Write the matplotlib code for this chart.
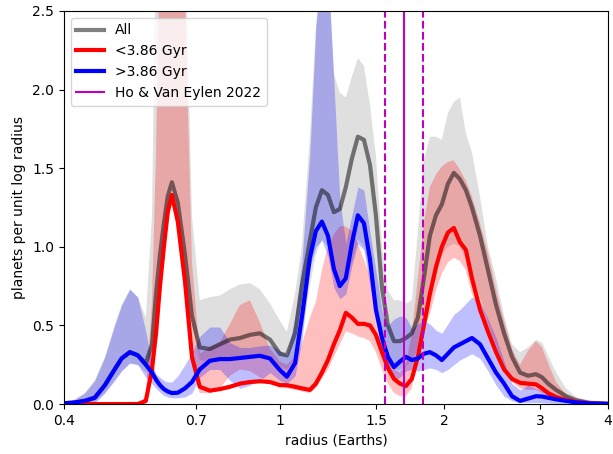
import numpy as np
import matplotlib
matplotlib.use("Agg")
import matplotlib.pyplot as plt
from matplotlib.ticker import FixedLocator, FixedFormatter, NullLocator

# radius grid (Earth radii)
radius = [0.400, 0.419, 0.437, 0.456, 0.476, 0.496, 0.511, 0.529, 0.547, 0.566,
          0.581, 0.591, 0.601, 0.611, 0.621, 0.632, 0.648, 0.668, 0.688, 0.711,
          0.742, 0.774, 0.808, 0.843, 0.879, 0.917, 0.957, 0.998, 1.028, 1.064,
          1.095, 1.133, 1.162, 1.192, 1.223, 1.254, 1.286, 1.319, 1.353, 1.388,
          1.424, 1.461, 1.498, 1.537, 1.576, 1.617, 1.658, 1.701, 1.744, 1.789,
          1.835, 1.882, 1.931, 1.980, 2.031, 2.083, 2.137, 2.192, 2.249, 2.327,
          2.407, 2.490, 2.576, 2.664, 2.756, 2.851, 2.949, 3.025, 3.103, 3.210,
          3.349, 3.493, 3.706, 4.000]

all_line = [0.005, 0.01, 0.02, 0.04, 0.12, 0.22, 0.29, 0.33, 0.31, 0.26,
            0.38, 0.70, 0.95, 1.15, 1.32, 1.41, 1.28, 0.95, 0.56, 0.36,
            0.35, 0.38, 0.41, 0.42, 0.44, 0.45, 0.41, 0.32, 0.31, 0.45,
            0.75, 1.04, 1.25, 1.36, 1.33, 1.22, 1.24, 1.38, 1.56, 1.70,
            1.68, 1.52, 1.20, 0.74, 0.50, 0.40, 0.40, 0.42, 0.45, 0.55,
            0.80, 1.07, 1.20, 1.27, 1.40, 1.47, 1.43, 1.36, 1.25, 1.07,
            0.85, 0.63, 0.45, 0.30, 0.20, 0.18, 0.19, 0.17, 0.13, 0.09,
            0.05, 0.025, 0.008, 0.002]
all_lo = [0.0, 0.0, 0.002, 0.008, 0.07, 0.15, 0.21, 0.26, 0.25, 0.20,
          0.24, 0.60, 0.90, 1.10, 1.28, 1.38, 1.25, 0.90, 0.50, 0.28,
          0.27, 0.28, 0.28, 0.29, 0.30, 0.30, 0.28, 0.24, 0.22, 0.28,
          0.45, 0.75, 0.95, 1.05, 1.00, 0.85, 0.78, 0.79, 0.90, 1.05,
          1.00, 0.82, 0.55, 0.35, 0.25, 0.22, 0.22, 0.24, 0.28, 0.35,
          0.55, 0.75, 0.88, 0.95, 1.00, 1.02, 1.00, 0.92, 0.82, 0.68,
          0.52, 0.38, 0.25, 0.16, 0.12, 0.11, 0.11, 0.09, 0.06, 0.04,
          0.02, 0.008, 0.002, 0.0]
all_hi = [0.005, 0.03, 0.07, 0.15, 0.30, 0.50, 0.63, 0.73, 0.68, 0.55,
          1.20, 3.0, 3.0, 3.0, 3.0, 3.0, 3.0, 3.0, 1.20, 0.66,
          0.68, 0.69, 0.73, 0.76, 0.77, 0.73, 0.64, 0.53, 0.46, 0.70,
          1.00, 1.70, 2.40, 2.80, 2.80, 2.10, 1.98, 1.95, 2.08, 2.20,
          2.15, 1.90, 1.58, 1.00, 0.72, 0.66, 0.66, 0.64, 0.66, 1.10,
          1.55, 1.70, 1.70, 1.68, 1.85, 1.92, 1.95, 1.72, 1.60, 1.32,
          1.00, 0.80, 0.56, 0.38, 0.33, 0.36, 0.41, 0.39, 0.31, 0.20,
          0.10, 0.045, 0.012, 0.003]

young_line = [0.0, 0.0, 0.0, 0.0, 0.0, 0.0, 0.0, 0.0, 0.0, 0.02,
              0.22, 0.45, 0.75, 1.00, 1.22, 1.33, 1.16, 0.78, 0.30, 0.11,
              0.085, 0.095, 0.11, 0.13, 0.14, 0.145, 0.14, 0.12, 0.12, 0.11,
              0.10, 0.09, 0.13, 0.20, 0.28, 0.38, 0.47, 0.58, 0.55, 0.51,
              0.51, 0.50, 0.44, 0.33, 0.23, 0.16, 0.13, 0.115, 0.16, 0.30,
              0.50, 0.70, 0.87, 1.00, 1.09, 1.12, 1.03, 0.98, 0.80, 0.60,
              0.46, 0.33, 0.22, 0.16, 0.135, 0.13, 0.125, 0.10, 0.07, 0.045,
              0.025, 0.015, 0.005, 0.001]
young_lo = [0.0, 0.0, 0.0, 0.0, 0.0, 0.0, 0.0, 0.0, 0.0, 0.0,
            0.15, 0.40, 0.70, 0.95, 1.18, 1.30, 1.12, 0.72, 0.25, 0.07,
            0.07, 0.10, 0.18, 0.22, 0.21, 0.17, 0.135, 0.11, 0.10, 0.09,
            0.08, 0.07, 0.10, 0.16, 0.22, 0.30, 0.38, 0.46, 0.45, 0.43,
            0.42, 0.40, 0.33, 0.22, 0.13, 0.07, 0.05, 0.05, 0.10, 0.30,
            0.48, 0.57, 0.72, 0.83, 0.90, 0.93, 0.91, 0.85, 0.70, 0.58,
            0.47, 0.33, 0.21, 0.14, 0.10, 0.09, 0.09, 0.07, 0.05, 0.03,
            0.015, 0.007, 0.002, 0.0]
young_hi = [0.0, 0.0, 0.0, 0.0, 0.0, 0.0, 0.0, 0.0, 0.0, 0.05,
            0.65, 1.60, 3.0, 3.0, 3.0, 3.0, 3.0, 2.60, 0.90, 0.32,
            0.36, 0.39, 0.51, 0.63, 0.66, 0.52, 0.35, 0.27, 0.25, 0.30,
            0.38, 0.55, 0.65, 0.85, 1.00, 1.08, 1.13, 1.13, 1.10, 1.02,
            0.92, 0.81, 0.60, 0.45, 0.30, 0.22, 0.20, 0.25, 0.45, 0.80,
            1.15, 1.38, 1.46, 1.51, 1.54, 1.55, 1.49, 1.42, 1.32, 1.15,
            0.96, 0.73, 0.53, 0.35, 0.25, 0.34, 0.40, 0.36, 0.26, 0.14,
            0.06, 0.025, 0.008, 0.002]

old_line = [0.005, 0.01, 0.02, 0.04, 0.12, 0.22, 0.29, 0.33, 0.31, 0.25,
            0.20, 0.155, 0.12, 0.095, 0.08, 0.07, 0.072, 0.10, 0.14, 0.22,
            0.275, 0.286, 0.286, 0.293, 0.30, 0.307, 0.29, 0.216, 0.174, 0.26,
            0.55, 0.93, 1.10, 1.16, 1.07, 0.86, 0.75, 0.80, 1.02, 1.20,
            1.15, 0.92, 0.60, 0.42, 0.30, 0.235, 0.27, 0.30, 0.28, 0.29,
            0.32, 0.33, 0.31, 0.28, 0.32, 0.36, 0.38, 0.40, 0.42, 0.38,
            0.29, 0.20, 0.13, 0.05, 0.02, 0.035, 0.05, 0.048, 0.04, 0.03,
            0.02, 0.01, 0.004, 0.001]
old_lo = [0.0, 0.0, 0.002, 0.008, 0.07, 0.15, 0.21, 0.26, 0.25, 0.17,
          0.13, 0.10, 0.075, 0.055, 0.045, 0.04, 0.04, 0.045, 0.07, 0.17,
          0.22, 0.22, 0.15, 0.10, 0.12, 0.15, 0.20, 0.15, 0.13, 0.18,
          0.40, 0.87, 1.00, 1.04, 0.94, 0.74, 0.67, 0.70, 0.88, 1.02,
          0.98, 0.75, 0.56, 0.35, 0.20, 0.15, 0.17, 0.21, 0.22, 0.21,
          0.22, 0.23, 0.22, 0.20, 0.22, 0.25, 0.28, 0.30, 0.32, 0.29,
          0.21, 0.12, 0.05, 0.02, 0.01, 0.01, 0.01, 0.008, 0.006, 0.004,
          0.002, 0.001, 0.0, 0.0]
old_hi = [0.005, 0.03, 0.07, 0.15, 0.30, 0.50, 0.63, 0.73, 0.68, 0.46,
          0.26, 0.19, 0.17, 0.15, 0.14, 0.14, 0.18, 0.25, 0.33, 0.43,
          0.49, 0.49, 0.39, 0.36, 0.36, 0.37, 0.375, 0.34, 0.31, 0.55,
          0.90, 1.60, 2.40, 2.80, 2.80, 2.05, 1.30, 1.02, 1.20, 1.38,
          1.36, 1.09, 0.85, 0.60, 0.50, 0.54, 0.56, 0.55, 0.48, 0.51,
          0.53, 0.51, 0.47, 0.45, 0.51, 0.57, 0.60, 0.64, 0.68, 0.65,
          0.54, 0.42, 0.27, 0.13, 0.09, 0.12, 0.10, 0.09, 0.07, 0.045,
          0.025, 0.012, 0.005, 0.001]

valley = 1.69
valley_lo, valley_hi = 1.56, 1.83

xticks = [0.4, 0.7, 1, 1.5, 2, 3, 4]
xticklabels = ["0.4", "0.7", "1", "1.5", "2", "3", "4"]

fig = plt.figure(figsize=(6.13, 4.54), dpi=100)
ax = fig.add_axes([0.104, 0.110, 0.888, 0.866])

ax.fill_between(radius, all_lo, all_hi, color="gray", alpha=0.25, lw=0)
ax.fill_between(radius, young_lo, young_hi, color="r", alpha=0.25, lw=0)
ax.fill_between(radius, old_lo, old_hi, color="b", alpha=0.25, lw=0)

ax.plot(radius, all_line, color="k", alpha=0.5, lw=3, label="All")
ax.plot(radius, young_line, color="r", lw=3, label="<3.86 Gyr")
ax.plot(radius, old_line, color="b", lw=3, label=">3.86 Gyr")

ax.axvline(valley, color="m", lw=1.5, label="Ho & Van Eylen 2022")
ax.axvline(valley_lo, color="m", lw=1.5, ls="--")
ax.axvline(valley_hi, color="m", lw=1.5, ls="--")

ax.set_xscale("log")
ax.set_xlim(0.4, 4)
ax.set_ylim(0, 2.5)
ax.xaxis.set_major_locator(FixedLocator(xticks))
ax.xaxis.set_major_formatter(FixedFormatter(xticklabels))
ax.xaxis.set_minor_locator(NullLocator())
ax.set_xlabel("radius (Earths)")
ax.set_ylabel("planets per unit log radius")
ax.legend(loc="upper left")

fig.savefig("out.png", dpi=100)
